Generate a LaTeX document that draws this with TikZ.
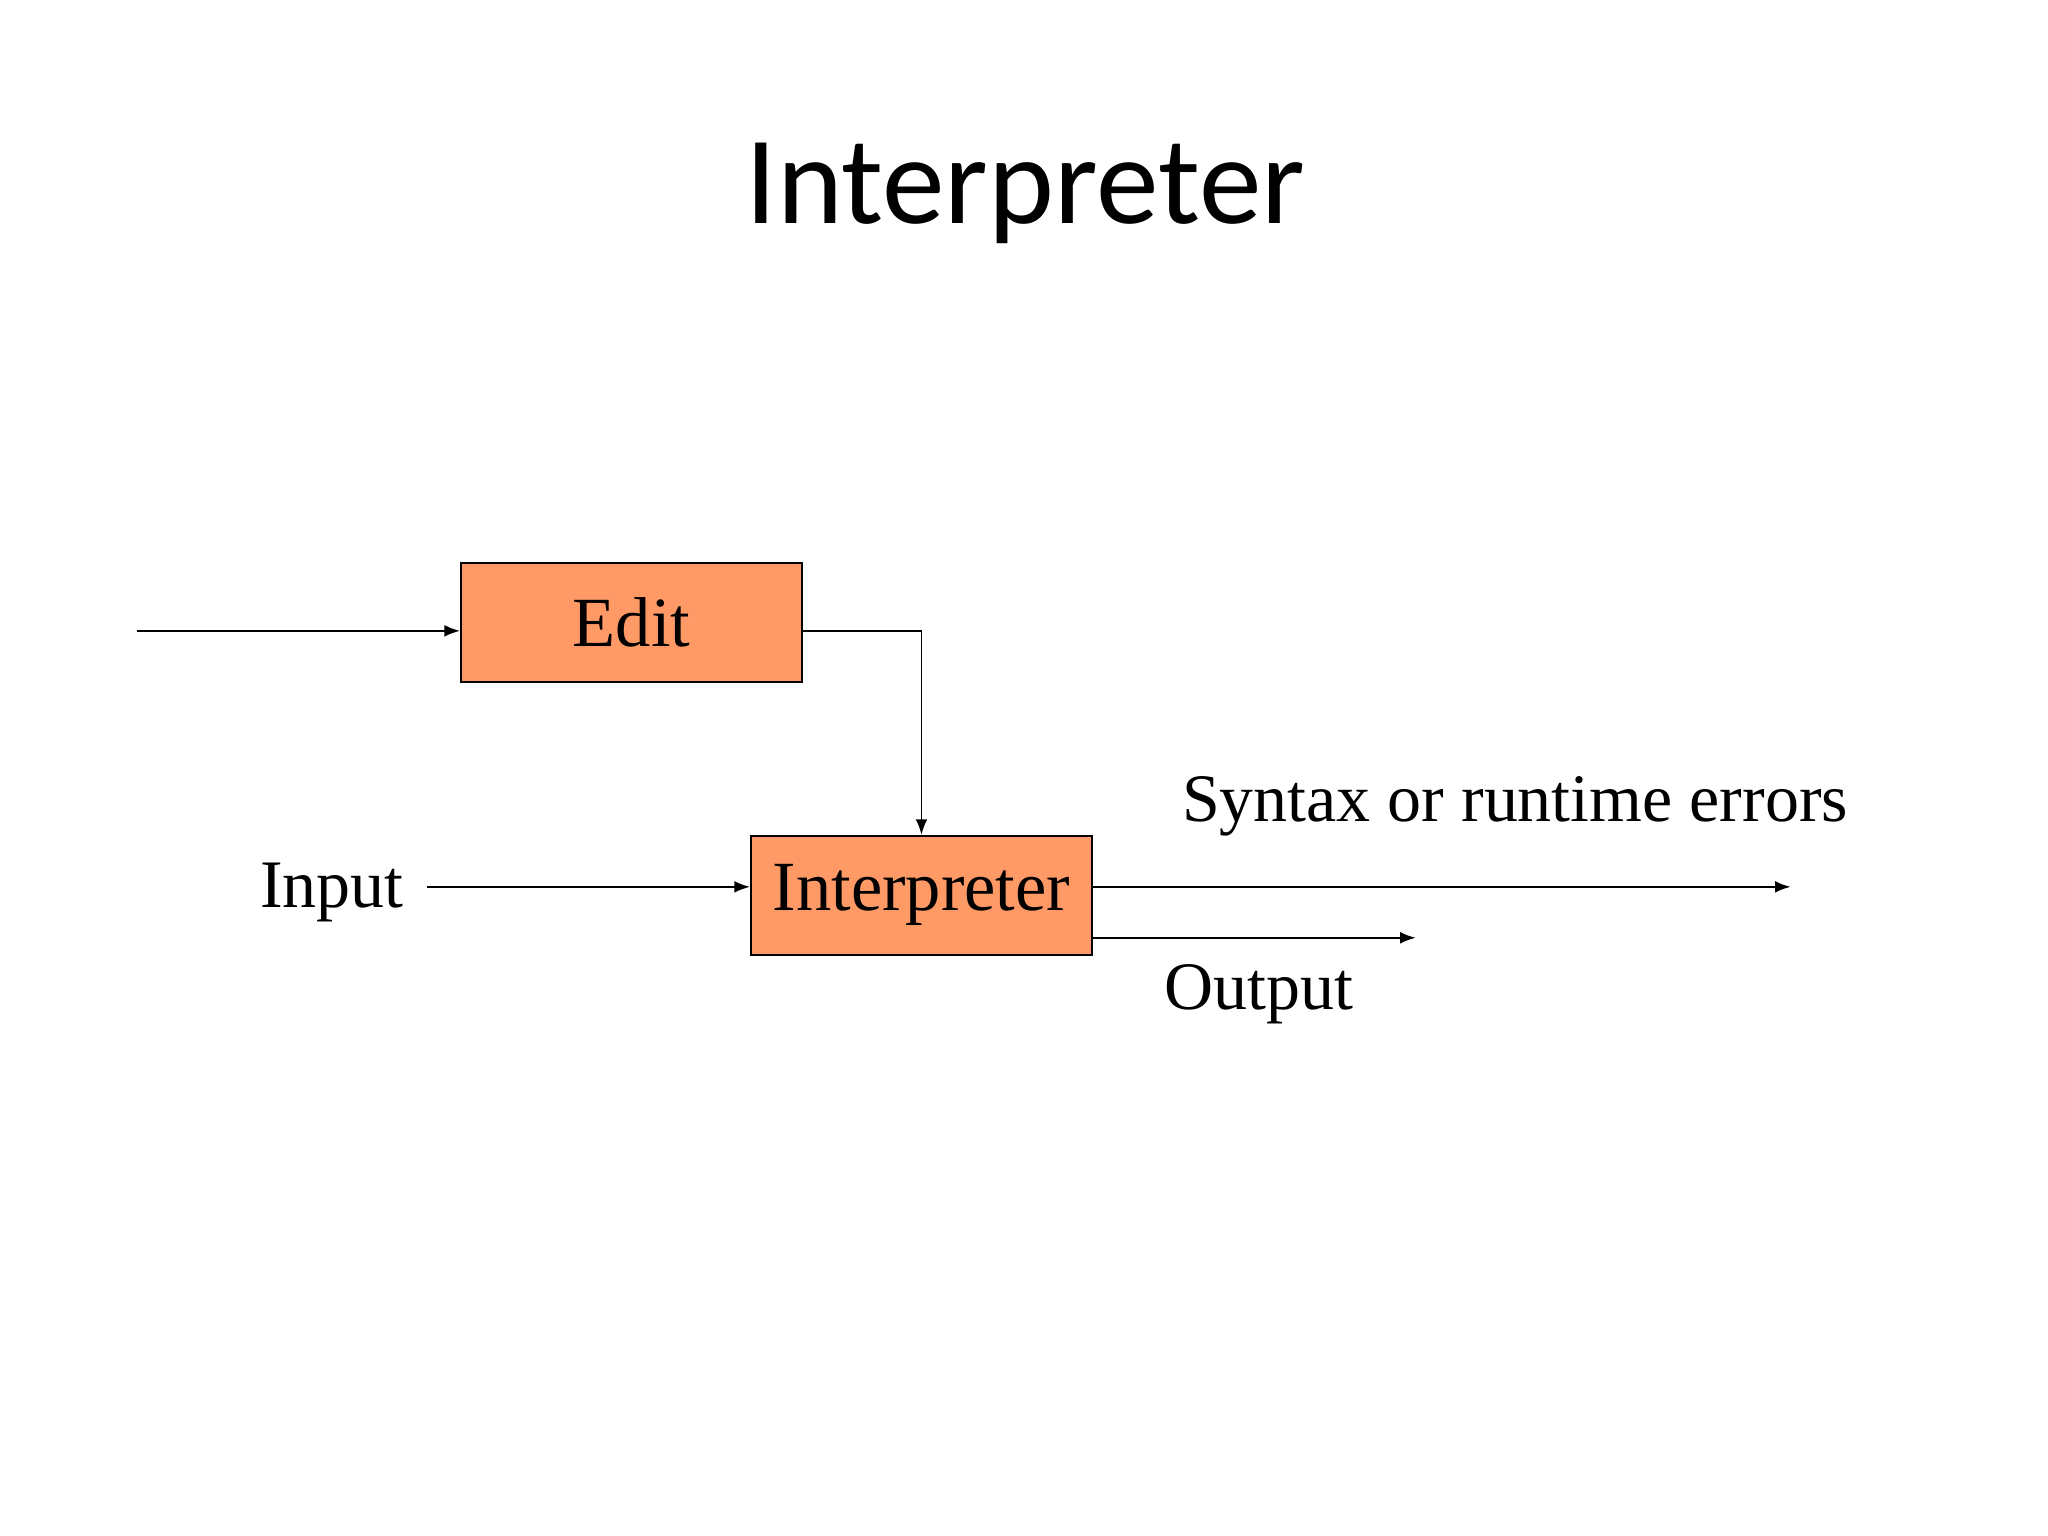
\documentclass[tikz,border=0pt]{standalone}
\usepackage{fontspec}
\setmainfont{Liberation Serif}
\newfontfamily\titlefont{Carlito}
\usetikzlibrary{arrows.meta}
\tikzset{every picture/.style={line width=0.75pt}}
\tikzset{
  procbox/.style={draw, fill={rgb,255:red,255;green,153;blue,102}, minimum width=130.5pt, minimum height=45.5pt, inner sep=0pt, font=\fontsize{27}{30}\selectfont},
  lbl/.style={inner sep=0.75pt, font=\fontsize{26}{30}\selectfont},
  flow/.style={-{Latex[length=6pt,width=4.5pt]}}
}
\begin{document}
\begin{tikzpicture}[x=0.5pt,y=0.5pt,yscale=-1]
	\useasboundingbox (0,0) rectangle (1568,1176);
	% Title
	\node (title) at (785,148) {\titlefont\fontsize{48}{56}\selectfont Interpreter};
	
	% Boxes
	\node[procbox] (edit) at (483.5,476.5) {Edit};
	\node[procbox] (interp) at (705.5,685.5) {Interpreter};
	
	% Labels
	\node[lbl] (input) at (254,683) {Input};
	\node[lbl] (errors) at (1160,617) {Syntax or runtime errors};
	\node[lbl] (output) at (964,761) {Output};
	
	% Free ends
	\coordinate (start) at (105,483);
	\coordinate (errend) at (1371,679);
	\coordinate (outend) at (1084,718);
	
	% Connectors
	\draw[flow] (start) -- (edit.west |- start);
	\draw[flow] (edit.east |- start) -| (interp.north);
	\draw[flow] (327,679) -- (interp.west |- 0,679);
	\draw[flow] (interp.east |- errend) -- (errend);
	\draw[flow] (interp.east |- outend) -- (outend);
\end{tikzpicture}
\end{document}
